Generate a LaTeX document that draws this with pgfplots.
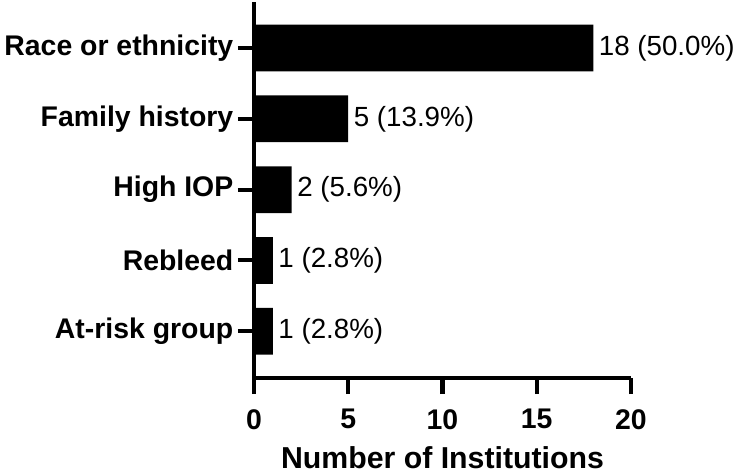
\documentclass[border=0pt]{standalone}
\usepackage{fontspec}
\setmainfont{Liberation Sans}
\usepackage{pgfplots}
\pgfplotsset{compat=1.18}
\begin{document}
\begin{tikzpicture}
\begin{axis}[
  scale only axis, width=282.75pt, height=282pt,
  xmin=0, xmax=20, ymin=-0.66, ymax=4.65,
  axis x line=bottom, axis y line=left,
  axis line style={-, line width=3pt, black},
  xtick={0,5,10,15,20}, ytick={0,1,2,3,4},
  yticklabels={At-risk group, Rebleed, High IOP, Family history, Race or ethnicity},
  tick align=outside, major tick length=12pt,
  major tick style={line width=3pt, black},
  /pgf/number format/assume math mode=true,
  ticklabel style={font=\bfseries\fontsize{21.3}{25}\selectfont},
  xticklabel style={yshift=-8pt},
  xlabel={Number of Institutions},
  xlabel style={at={(axis description cs:0.5,0)}, anchor=center, yshift=-59.5pt,
    font=\bfseries\fontsize{22.7}{27}\selectfont},
  clip=false,
]
\addplot[xbar, bar width=0.66, fill=black, draw=none,
  nodes near coords, point meta=explicit symbolic,
  nodes near coords style={anchor=west, inner xsep=4pt, font=\fontsize{20.8}{24}\selectfont}]
  coordinates {(1,0) [1 (2.8\%)] (1,1) [1 (2.8\%)] (2,2) [2 (5.6\%)] (5,3) [5 (13.9\%)] (18,4) [18 (50.0\%)]};
\end{axis}
\pgfresetboundingbox
\path ([shift={(-190.5pt,-72pt)}]current axis.south west) rectangle ([shift={(363pt,283.5pt)}]current axis.south west);
\end{tikzpicture}
\end{document}
